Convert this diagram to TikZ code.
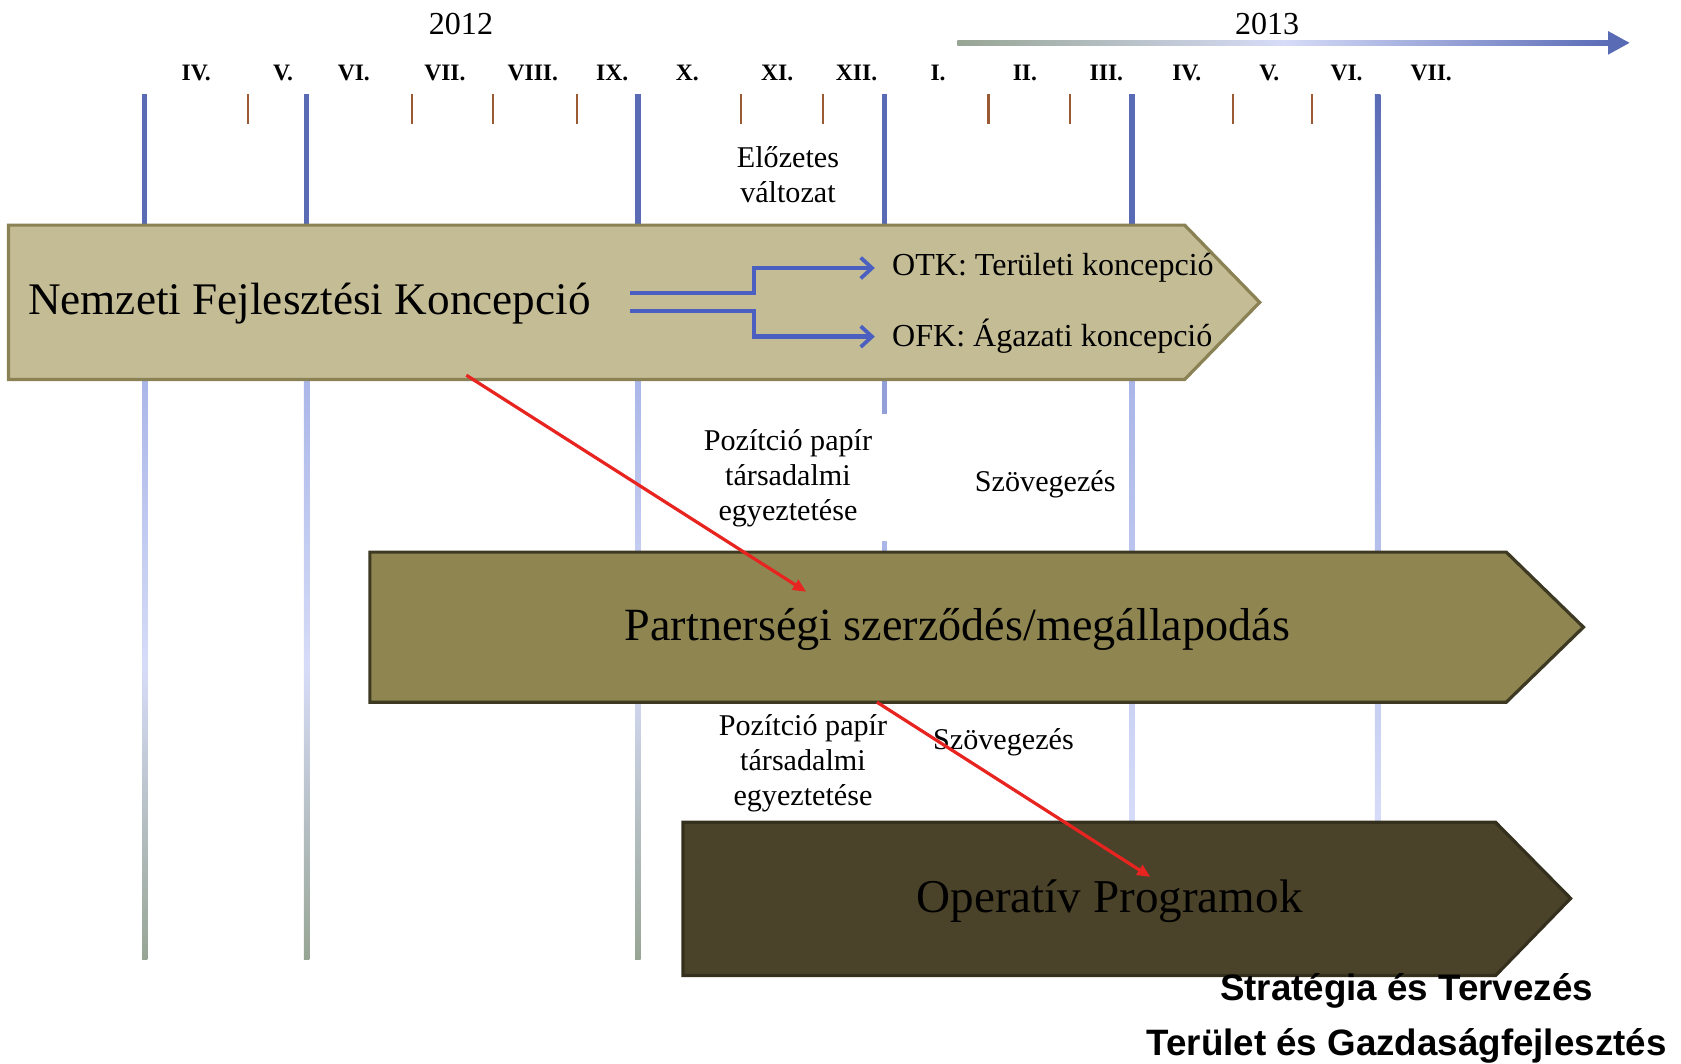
\documentclass[tikz,border=0pt]{standalone}
\usepackage{fontspec}
\setmainfont{Liberation Serif}
\newfontfamily\deptfont{Liberation Sans}
\usetikzlibrary{arrows.meta}

\definecolor{linblue}{HTML}{5A6BB6}
\definecolor{linlight}{HTML}{AAB6E8}
\definecolor{linpale}{HTML}{D6DCF8}
\definecolor{lingrey}{HTML}{97A594}
\definecolor{tickbrown}{HTML}{9A5A34}
\definecolor{nfkfill}{HTML}{C4BC95}
\definecolor{nfkedge}{HTML}{8A8254}
\definecolor{pszfill}{HTML}{8E8550}
\definecolor{pszedge}{HTML}{3D3922}
\definecolor{opfill}{HTML}{4B4329}
\definecolor{opedge}{HTML}{35301D}
\definecolor{splitblue}{HTML}{4B5FC0}
\definecolor{linkred}{HTML}{E82420}

\begin{document}
\begin{tikzpicture}[x=0.2mm,y=-0.2mm,
    month/.style={font=\bfseries\fontsize{12.5}{14}\selectfont},
    year/.style={font=\fontsize{17}{20}\selectfont},
    note/.style={font=\fontsize{16}{18.5}\selectfont,align=center},
    tick/.style={tickbrown,line width=0.4mm},
    band/.style={line width=0.6mm,line join=miter},
    split/.style={splitblue,line width=0.8mm,-{Straight Barb[length=6pt,width=11pt,line width=2pt]}},
    link/.style={linkred,line width=0.6mm,-{Triangle[length=7pt,width=6pt]}}]
    \useasboundingbox (0,0) rectangle (1568,992);

    % years
    \node[year] (y2012) at (430,22) {2012};
    \node[year] (y2013) at (1182,22) {2013};
    \shade[left color=lingrey,right color=linblue,middle color=linpale] (893,37.5) rectangle (1502,42.5);
    \fill[linblue] (1500,29) -- (1520,40) -- (1500,51) -- cycle;

    % months
    \foreach \x/\m [count=\i] in {183/IV.,264/V.,330/VI.,415/VII.,497/VIII.,571/IX.,641/X.,725/XI.,799/XII.,
        875/I.,956/II.,1032/III.,1107/IV.,1184/V.,1256/VI.,1335/VII.}
        \node[month] (mon\i) at (\x,68) {\m};
    \foreach \x in {231,384,460,538,691,768,922,998,1150,1224}
        \draw[tick] (\x,88) -- (\x,116);

    % quarter lines
    \foreach \x in {135,286,595} {
        \fill[linblue] (\x-2.5,88) rectangle (\x+2.5,212);
        \shade[top color=linlight,bottom color=lingrey,middle color=linpale] (\x-2.5,352) rectangle (\x+2.5,895);
    }
    \fill[linblue] (822.5,88) rectangle (827.5,212);
    \fill[linlight!70!linblue] (822.5,352) rectangle (827.5,386);
    \fill[linlight] (822.5,505) rectangle (827.5,516);
    \fill[linblue] (1053.5,88) rectangle (1058.5,212);
    \shade[top color=linlight,bottom color=linpale] (1053.5,352) rectangle (1058.5,768);
    \shade[top color=linblue,bottom color=linpale,middle color=linlight] (1282.5,88) rectangle (1287.5,768);

    % phases
    \draw[band,draw=nfkedge,fill=nfkfill] (8,210) -- (1105,210) -- (1175,282) -- (1105,354) -- (8,354) -- cycle;
    \draw[band,draw=pszedge,fill=pszfill] (345,515) -- (1405,515) -- (1477,585) -- (1405,655) -- (345,655) -- cycle;
    \draw[band,draw=opedge,fill=opfill] (637,767) -- (1395,767) -- (1465,838) -- (1395,910) -- (637,910) -- cycle;

    \node[anchor=west,font=\fontsize{24}{28}\selectfont] (nfk) at (20,283) {Nemzeti Fejlesztési Koncepció};
    \node[anchor=west,font=\fontsize{17}{20}\selectfont] (otk) at (826,250) {OTK: Területi koncepció};
    \node[anchor=west,font=\fontsize{17}{20}\selectfont] (ofk) at (826,314) {OFK: Ágazati koncepció};
    \node[font=\fontsize{24.5}{28}\selectfont] (psz) at (893,587) {Partnerségi szerződés/megállapodás};
    \node[font=\fontsize{25}{30}\selectfont] (op) at (1035,841) {Operatív Programok};

    \coordinate (forkA) at (588,273);
    \coordinate (forkB) at (588,290);
    \draw[split] (forkA) -- (703,273) |- ([xshift=-2mm]otk.west);
    \draw[split] (forkB) -- (703,290) |- ([xshift=-2mm]ofk.west);

    % notes
    \node[note] (elozetes) at (735,163) {Előzetes\\változat};
    \node[note] (pozA) at (735,446) {Pozítció papír\\társadalmi\\egyeztetése};
    \node[note] (szovA) at (975,452) {Szövegezés};
    \node[note] (pozB) at (749,712) {Pozítció papír\\társadalmi\\egyeztetése};
    \node[note] (szovB) at (936,692) {Szövegezés};

    \coordinate (nfkout) at (435,350);
    \coordinate (pszin) at (752,552);
    \coordinate (pszout) at (818,655);
    \coordinate (opin) at (1073,818);
    \draw[link] (nfkout) -- (pszin);
    \draw[link] (pszout) -- (opin);

    \node[align=center,font=\deptfont\bfseries\fontsize{19.5}{29}\selectfont] (dept) at (1312,950)
        {Stratégia és Tervezés\\Terület és Gazdaságfejlesztés};
\end{tikzpicture}
\end{document}
